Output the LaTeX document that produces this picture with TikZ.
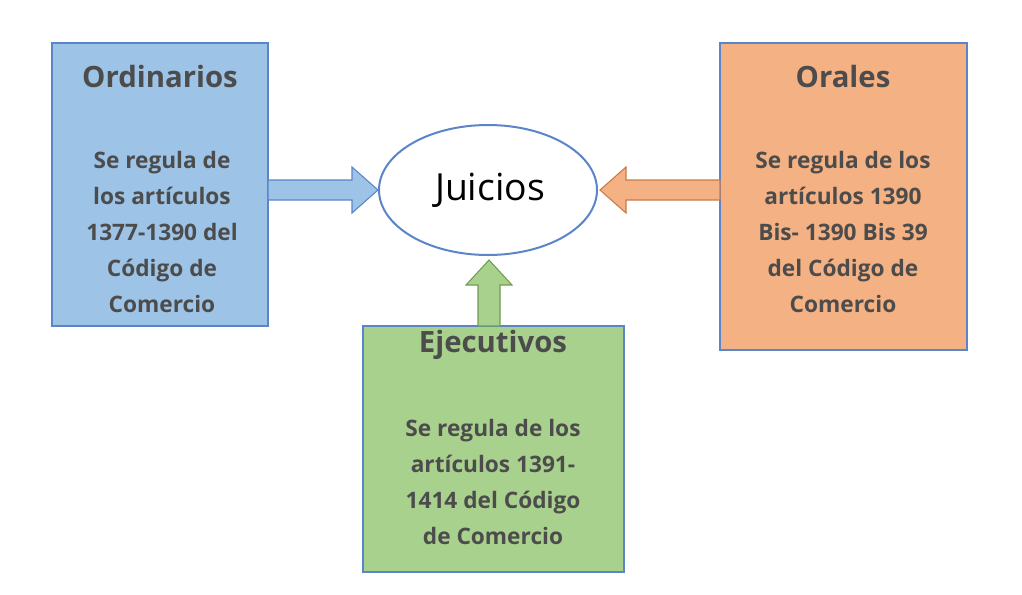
\documentclass[tikz,border=0pt]{standalone}
\usepackage{fontspec}
\setmainfont{Open Sans}
\usetikzlibrary{shapes.geometric}
\begin{document}
\begin{tikzpicture}[x=0.75pt,y=-0.75pt,
 tt/.style={text=gray!60!black,font=\bfseries,align=center},
 arr/.style={line width=0.8pt}]
\useasboundingbox (0,0) rectangle (1022,594);
\definecolor{cb}{HTML}{9DC3E6}\definecolor{co}{HTML}{F4B183}\definecolor{cg}{HTML}{A9D18E}
\definecolor{lb}{HTML}{5B85C8}\definecolor{lo}{HTML}{C97A4A}\definecolor{lg}{HTML}{6E9E50}
% boxes
\filldraw[fill=cb,draw=lb,line width=0.8pt] (52,43) rectangle (268,326);
\filldraw[fill=co,draw=lb,line width=0.8pt] (720,43) rectangle (967,350);
\filldraw[fill=cg,draw=lb,line width=0.8pt] (363,326) rectangle (624,572);
% arrows
\filldraw[arr,fill=cb,draw=lb] (268,180)--(352,180)--(352,167)--(378,190)--(352,213)--(352,200)--(268,200)--cycle;
\filldraw[arr,fill=co,draw=lo] (720,180)--(626,180)--(626,167)--(600,190)--(626,213)--(626,200)--(720,200)--cycle;
\filldraw[arr,fill=cg,draw=lg] (478,326)--(478,285)--(466,285)--(489,260)--(512,285)--(500,285)--(500,326)--cycle;
% ellipse
\node[ellipse,draw=lb,line width=1.5pt,fill=white,minimum width=163.5pt,minimum height=97.5pt,inner sep=0pt] (j) at (488,190) {};
\node[font=\fontsize{28}{32}\selectfont] at (490,190) {Juicios};
% texts
\node[tt,font=\bfseries\fontsize{22}{26}\selectfont] (t1) at (160,76) {Ordinarios};
\node[tt,font=\bfseries\fontsize{17}{27}\selectfont] (b1) at (162,232) {Se regula de\\los artículos\\1377-1390 del\\Código de\\Comercio};
\node[tt,font=\bfseries\fontsize{22}{26}\selectfont] (t2) at (843,76) {Orales};
\node[tt,font=\bfseries\fontsize{17}{27}\selectfont] (b2) at (843,232) {Se regula de los\\artículos 1390\\Bis- 1390 Bis 39\\del Código de\\Comercio};
\node[tt,font=\bfseries\fontsize{22}{26}\selectfont] (t3) at (493,345) {Ejecutivos};
\node[tt,font=\bfseries\fontsize{17}{27}\selectfont] (b3) at (493,482) {Se regula de los\\artículos 1391-\\1414 del Código\\de Comercio};
\end{tikzpicture}
\end{document}
